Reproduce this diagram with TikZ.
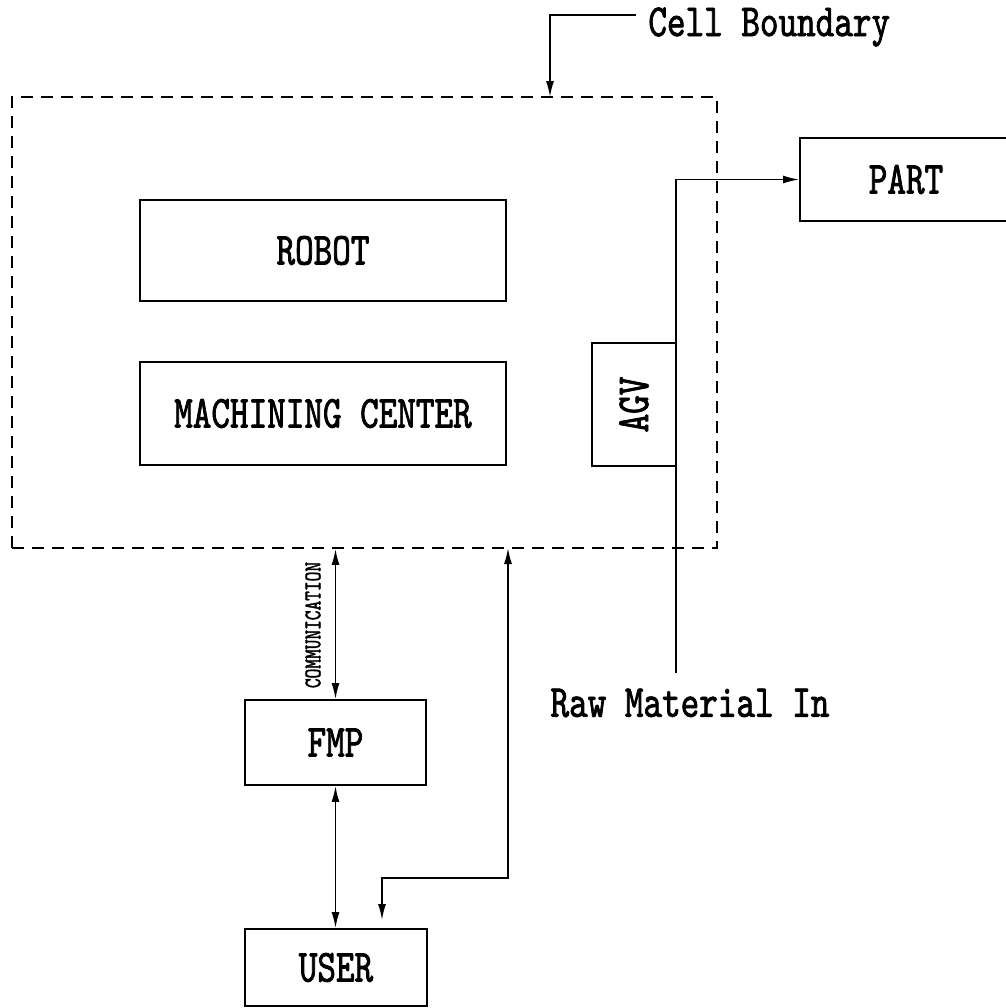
\documentclass[tikz,border=0pt]{standalone}
\usepackage{fontspec}
\newfontfamily\plotfont[FakeStretch=0.77,FakeBold=1.6]{lmmono10-regular.otf}
\usetikzlibrary{arrows.meta}
\tikzset{
  plotlabel/.style={inner sep=0pt, font=\plotfont\fontsize{23}{26}\selectfont},
  unitbox/.style={plotlabel, draw, line width=0.9pt},
  boundary/.style={draw, line width=0.9pt, dash pattern=on 6pt off 4pt, inner sep=0pt},
  flow/.style={line width=0.8pt, -{Latex[length=8pt,width=4pt]}},
  dblflow/.style={line width=0.8pt, {Latex[length=8pt,width=4pt]}-{Latex[length=8pt,width=4pt]}}
}

\begin{document}
\begin{tikzpicture}[x=0.5pt,y=-0.5pt]
  \useasboundingbox (0,0) rectangle (1006,1008);
  % ---------- the cell and what sits in it ----------
  \node[boundary, minimum width=352.5pt, minimum height=225.5pt] (cell) at (364.5,322.5) {};
  \node[unitbox, minimum width=183pt, minimum height=50.5pt] (robot) at (323,250.5) {ROBOT};
  \node[unitbox, minimum width=183pt, minimum height=51.5pt] (machining) at (323,413.5) {MACHINING CENTER};
  \node[unitbox, minimum width=42pt, minimum height=61.5pt] (agv) at (634,404.5) {\rotatebox{90}{AGV}};
  \node[unitbox, minimum width=106pt, minimum height=41.5pt] (part) at (906,179.5) {PART};
  % ---------- outside the cell ----------
  \node[unitbox, minimum width=90.5pt, minimum height=42.5pt] (fmp) at (335.5,742.5) {FMP};
  \node[unitbox, minimum width=91pt, minimum height=38.5pt] (user) at (336,967.5) {USER};
  \node[plotlabel, anchor=west] (celllabel) at (648,27) {Cell Boundary};
  \node[plotlabel] (rawin) at (690,703) {Raw Material In};
  \node[inner sep=0pt, rotate=90, font=\plotfont\fontsize{12}{13}\selectfont] (commlabel) at (313,625) {COMMUNICATION};
  % ---------- connectors ----------
  \coordinate (cbstart) at (636,15);
  \coordinate (cbend) at (550,97);
  \draw[flow] (cbstart) -| (cbend);
  \coordinate (rawtop) at (676,673);
  \draw[flow] (rawtop) |- (part.west);
  \draw[dblflow] (fmp.north |- cell.south) -- (fmp.north);
  \draw[dblflow] (fmp.south) -- (fmp.south |- user.north);
  \coordinate (feedup) at (508,548);
  \coordinate (feeddown) at (382,920);
  \draw[dblflow] (feedup) -- (508,878) -| (feeddown);
\end{tikzpicture}
\end{document}
